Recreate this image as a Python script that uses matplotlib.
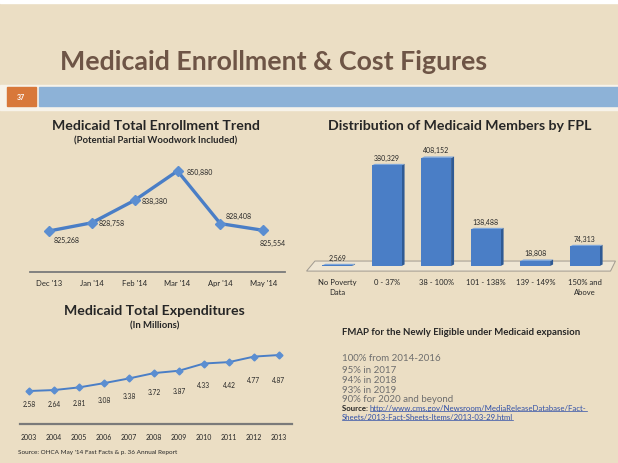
import matplotlib
matplotlib.use("Agg")
import matplotlib.pyplot as plt
from matplotlib.patches import Rectangle, Polygon
from matplotlib.lines import Line2D

plt.rcParams['font.family'] = ['Lato', 'DejaVu Sans']

# ---- data -------------------------------------------------------------
enroll_months = ["Dec '13", "Jan '14", "Feb '14", "Mar '14", "Apr '14", "May '14"]
enroll_values = [825268, 828758, 838380, 850880, 828408, 825554]

fpl_groups = ["No Poverty\nData", "0 - 37%", "38 - 100%", "101 - 138%",
              "139 - 149%", "150% and\nAbove"]
fpl_members = [2569, 380329, 408152, 138488, 18808, 74313]

exp_years = ["2003", "2004", "2005", "2006", "2007", "2008", "2009",
             "2010", "2011", "2012", "2013"]
exp_values = [2.58, 2.64, 2.81, 3.08, 3.38, 3.72, 3.87, 4.33, 4.42, 4.77, 4.87]

fmap_lines = ["100% from 2014-2016", "95% in 2017", "94% in 2018",
              "93% in 2019", "90% for 2020 and beyond"]

# ---- colours ----------------------------------------------------------
BG = "#EBDEC4"
BLUE = "#4A7EC6"
BLUE_DARK = "#2F5A94"
BLUE_TOP = "#7EA6DA"
TITLE_BROWN = "#6E5546"
DARK = "#262626"

W, H = 618, 464
fig = plt.figure(figsize=(W / 100, H / 100), dpi=100, facecolor=BG)


def px_axes(x0, y0, x1, y1):
    ax = fig.add_axes([x0 / W, 1 - y1 / H, (x1 - x0) / W, (y1 - y0) / H])
    ax.set_facecolor("none")
    return ax


def ftext(x, y, s, **kw):
    return fig.text(x / W, 1 - y / H, s, **kw)


def frect(x0, y0, x1, y1, color):
    fig.patches.append(Rectangle((x0 / W, 1 - y1 / H), (x1 - x0) / W, (y1 - y0) / H,
                                 transform=fig.transFigure, color=color, zorder=0))


# ---- slide header -----------------------------------------------------
frect(0, 0, W, 4, "white")
frect(0, 86, W, 111, "#F7F3EA")
frect(7, 88, 36, 107, "#D8783A")
frect(39, 88, W, 107, "#8DB2D7")
ftext(21, 97.5, "37", color="white", fontsize=5, fontweight="bold",
      ha="center", va="center")
ftext(274, 62, "Medicaid Enrollment & Cost Figures", color=TITLE_BROWN,
      fontsize=19.3, fontweight="bold", ha="center", va="center")

# ---- enrollment trend -------------------------------------------------
ftext(156, 126, "Medicaid Total Enrollment Trend", color=DARK, fontsize=10.2,
      fontweight="bold", ha="center", va="center")
ftext(156, 141, "(Potential Partial Woodwork Included)", color=DARK, fontsize=6.8,
      fontweight="bold", ha="center", va="center")

ax1 = px_axes(30, 160, 285, 273)
xs = list(range(len(enroll_months)))
ax1.plot(xs, enroll_values, color=BLUE, lw=2.4, marker="D", ms=5,
         markerfacecolor="#5B8ED1", markeredgecolor="#5B8ED1", solid_joinstyle="round")
ax1.set_xlim(-0.444, 5.51)
ax1.set_ylim(807750, 856000)
label_offsets = [(18, -8), (20, 0), (20, 0), (22, 0), (18, 8), (10, -12)]
for x, v, off in zip(xs, enroll_values, label_offsets):
    ax1.annotate(f"{v:,}", (x, v), xytext=off, textcoords="offset pixels",
                 ha="center", va="center", fontsize=5, color=DARK)
ax1.set_xticks(xs)
ax1.set_xticklabels(enroll_months, fontsize=5.5, color=DARK)
ax1.tick_params(axis="x", length=0, pad=5)
ax1.set_yticks([])
for s in ["top", "right", "left"]:
    ax1.spines[s].set_visible(False)
ax1.spines["bottom"].set_color("#7A7A7A")
ax1.spines["bottom"].set_linewidth(1.3)

# ---- FPL distribution -------------------------------------------------
ftext(460, 126, "Distribution of Medicaid Members by FPL", color=DARK, fontsize=10.2,
      fontweight="bold", ha="center", va="center")

ax2 = px_axes(310, 148, 612, 275)
ax2.set_xlim(-0.55, 5.55)
ax2.set_ylim(-30000, 450000)
bx = list(range(len(fpl_groups)))
bw = 0.6
dx, dy = 0.06, 6000
# floor of the 3-D plot area
floor = Polygon([(-0.62, -19000), (5.52, -19000), (5.62, 19000), (-0.45, 19000)],
                closed=True, facecolor="#EFE6D3", edgecolor="#A09A90", lw=0.7,
                zorder=1, clip_on=False)
ax2.add_patch(floor)
for x, v in zip(bx, fpl_members):
    side = Polygon([(x + bw / 2, 0), (x + bw / 2 + dx, dy), (x + bw / 2 + dx, v + dy),
                    (x + bw / 2, v)], closed=True, facecolor=BLUE_DARK,
                   edgecolor="none", zorder=2)
    top = Polygon([(x - bw / 2, v), (x - bw / 2 + dx, v + dy), (x + bw / 2 + dx, v + dy),
                   (x + bw / 2, v)], closed=True, facecolor=BLUE_TOP,
                  edgecolor="none", zorder=2)
    ax2.add_patch(side)
    ax2.add_patch(top)
ax2.bar(bx, fpl_members, width=bw, color=BLUE, zorder=3)
for x, v in zip(bx, fpl_members):
    ax2.annotate(f"{v:,}", (x, v + dy), xytext=(0, 3), textcoords="offset pixels",
                 ha="center", va="bottom", fontsize=5, color=DARK)
ax2.set_xticks(bx)
ax2.set_xticklabels(fpl_groups, fontsize=5.5, color=DARK, linespacing=1.5)
ax2.tick_params(axis="x", length=0, pad=3)
ax2.set_yticks([])
for s in ax2.spines.values():
    s.set_visible(False)

# ---- expenditures -----------------------------------------------------
ftext(154, 311, "Medicaid Total Expenditures", color=DARK, fontsize=10.2,
      fontweight="bold", ha="center", va="center")
ftext(155, 326, "(In Millions)", color=DARK, fontsize=6.8,
      fontweight="bold", ha="center", va="center")

ax3 = px_axes(20, 340, 292, 425)
ex = list(range(len(exp_years)))
ax3.plot(ex, exp_values, color=BLUE, lw=1.4, marker="D", ms=3.5,
         markerfacecolor="#5B8ED1", markeredgecolor="#5B8ED1")
ax3.set_xlim(-0.36, 10.52)
ax3.set_ylim(0.48, 5.89)
for x, v in zip(ex, exp_values):
    ax3.annotate(f"{v:.2f}", (x, v), xytext=(0, -9 - x * 1.2), textcoords="offset pixels",
                 ha="center", va="top", fontsize=4.8, color=DARK)
ax3.set_xticks(ex)
ax3.set_xticklabels(exp_years, fontsize=5, color=DARK)
ax3.tick_params(axis="x", length=0, pad=6.5)
ax3.set_yticks([])
for s in ["top", "right", "left"]:
    ax3.spines[s].set_visible(False)
ax3.spines["bottom"].set_color("#7A7A7A")
ax3.spines["bottom"].set_linewidth(1.6)

ftext(18, 453, "Source: OHCA May '14 Fast Facts & p. 36 Annual Report", color=DARK,
      fontsize=4.6, ha="left", va="center")

# ---- FMAP notes -------------------------------------------------------
ftext(342, 333, "FMAP for the Newly Eligible under Medicaid expansion", color=DARK,
      fontsize=6.9, fontweight="bold", ha="left", va="center")
line_y = [359, 371, 381, 391, 400]
for y, s in zip(line_y, fmap_lines):
    ftext(342, y, s, color="#6E6E6E", fontsize=7, ha="left", va="center")

src = ftext(342, 409, "Source: ", color=DARK, fontsize=5.6, fontweight="bold",
            ha="left", va="center")
fig.canvas.draw()
renderer = fig.canvas.get_renderer()
bb = src.get_window_extent(renderer)
link_lines = ["http://www.cms.gov/Newsroom/MediaReleaseDatabase/Fact-",
              "Sheets/2013-Fact-Sheets-Items/2013-03-29.html"]
link_x = [bb.x1 / W, 342 / W]
link_y = [409, 418]
for lx, ly, s in zip(link_x, link_y, link_lines):
    t = fig.text(lx, 1 - ly / H, s, color="#2F4FA8", fontsize=5.6,
                 ha="left", va="center")
    fig.canvas.draw()
    tb = t.get_window_extent(renderer)
    fig.add_artist(Line2D([tb.x0 / W, tb.x1 / W], [(tb.y0 + 0.5) / H, (tb.y0 + 0.5) / H],
                          transform=fig.transFigure, color="#2F4FA8", lw=0.5))

fig.savefig("out.png", dpi=100, facecolor=BG)
